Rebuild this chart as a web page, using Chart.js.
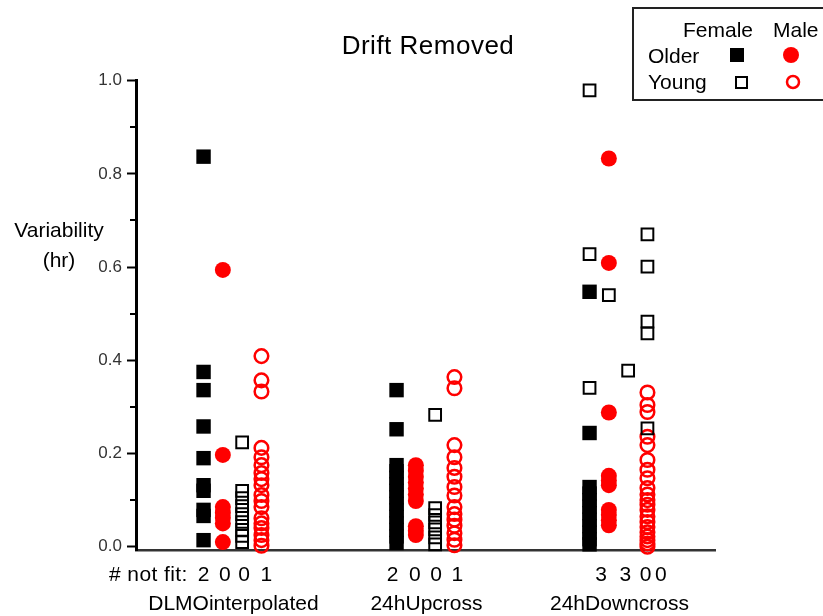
<!DOCTYPE html>
<html lang="en">
  <head>
    <meta charset="UTF-8" />
    <title>Drift Removed</title>
    <script src="https://cdn.jsdelivr.net/npm/chart.js"></script>
    <style>
      html,
      body {
        margin: 0;
        padding: 0;
        background: #fff;
      }
      #wrap {
        width: 823px;
        height: 616px;
      }
    </style>
  </head>
  <body>
    <div id="wrap"><canvas id="chart"></canvas></div>
    <script>
      // groups along the x axis
      const groups = ["DLMOinterpolated", "24hUpcross", "24hDowncross"];
      // "# not fit" counts per group: female older, male older, female young, male young
      const notFit = [
        [2, 0, 0, 1],
        [2, 0, 0, 1],
        [3, 3, 0, 0],
      ];
      const yTicks = [0, 0.2, 0.4, 0.6, 0.8, 1.0];
      const yMinorTicks = [0.1, 0.3, 0.5, 0.7, 0.9];

      // variability (hr), one list per group
      const femaleOlder = [
        [0.837, 0.375, 0.336, 0.258, 0.19, 0.132, 0.12, 0.079, 0.066, 0.014],
        [0.336, 0.252, 0.175, 0.162, 0.148, 0.134, 0.12, 0.106, 0.092, 0.078, 0.064, 0.05, 0.036, 0.022, 0.008],
        [0.547, 0.244, 0.128, 0.114, 0.1, 0.086, 0.072, 0.058, 0.044, 0.03, 0.016, 0.005],
      ];
      const maleOlder = [
        [0.594, 0.197, 0.085, 0.073, 0.062, 0.05, 0.01],
        [0.175, 0.163, 0.15, 0.138, 0.125, 0.112, 0.098, 0.044, 0.034, 0.025],
        [0.833, 0.609, 0.288, 0.152, 0.142, 0.132, 0.079, 0.068, 0.057, 0.046],
      ];
      const femaleYoung = [
        [0.224, 0.12, 0.104, 0.087, 0.07, 0.053, 0.036, 0.023, 0.01],
        [0.283, 0.083, 0.068, 0.052, 0.037, 0.02, 0.005],
        [0.979, 0.628, 0.341, 0.54, 0.378, 0.67, 0.601, 0.483, 0.458, 0.254],
      ];
      // column each young-female point sits in (0..3) for 24hDowncross
      const femaleYoungDowncrossCol = [0, 0, 0, 1, 2, 3, 3, 3, 3, 3];
      const maleYoung = [
        [0.409, 0.357, 0.333, 0.212, 0.192, 0.175, 0.158, 0.145, 0.132, 0.111, 0.098, 0.085, 0.061, 0.05, 0.04, 0.025, 0.014, 0.002],
        [0.364, 0.34, 0.218, 0.192, 0.169, 0.15, 0.128, 0.11, 0.085, 0.07, 0.058, 0.045, 0.029, 0.015, 0.003],
        [0.331, 0.304, 0.289, 0.236, 0.218, 0.186, 0.165, 0.147, 0.126, 0.112, 0.1, 0.09, 0.079, 0.065, 0.053, 0.042, 0.031, 0.022, 0.014, 0.007, 0],
      ];

      const FONT = "Arial, 'Liberation Sans', sans-serif";
      const RED = "#ff0000";

      function toPoints(lists, col, colsFor) {
        const pts = [];
        lists.forEach((vals, g) => {
          vals.forEach((v, i) => {
            const c = colsFor && colsFor[g] ? colsFor[g][i] : col;
            pts.push({ x: g * 10 + c, y: v });
          });
        });
        return pts;
      }

      const decor = {
        id: "decor",
        afterDraw(chart) {
          const { ctx, scales } = chart;
          const x = scales.x;
          const y = scales.y;
          ctx.save();

          // minor ticks
          ctx.strokeStyle = "#000";
          ctx.lineWidth = 2;
          yMinorTicks.forEach((v) => {
            const py = Math.round(y.getPixelForValue(v));
            ctx.beginPath();
            ctx.moveTo(x.left - 6, py);
            ctx.lineTo(x.left, py);
            ctx.stroke();
          });

          ctx.fillStyle = "#000";
          ctx.textBaseline = "alphabetic";

          // title
          ctx.font = "26px " + FONT;
          ctx.textAlign = "center";
          ctx.letterSpacing = "0.5px";
          ctx.fillText("Drift Removed", 428, 54);

          // y axis label
          ctx.font = "21px " + FONT;
          ctx.letterSpacing = "0px";
          ctx.fillText("Variability", 59, 237);
          ctx.fillText("(hr)", 59, 267);

          // # not fit row and group names
          ctx.font = "21px " + FONT;
          ctx.textAlign = "left";
          ctx.letterSpacing = "0.4px";
          ctx.fillText("# not fit:", 109, 581);
          ctx.letterSpacing = "0px";
          const notFitCol = [
            [0, 1.1, 2.1, 3.25],
            [-0.2, 0.95, 2.05, 3.15],
            [0.6, 1.85, 2.9, 3.7],
          ];
          ctx.textAlign = "center";
          notFit.forEach((counts, g) => {
            counts.forEach((n, i) => {
              ctx.fillText(String(n), x.getPixelForValue(g * 10 + notFitCol[g][i]), 581);
            });
            ctx.fillText(groups[g], x.getPixelForValue(g * 10 + 1.55), 610);
          });

          // legend box
          ctx.strokeStyle = "#222";
          ctx.lineWidth = 2;
          ctx.strokeRect(633, 8, 200, 92);
          ctx.font = "21px " + FONT;
          ctx.textAlign = "left";
          ctx.fillText("Female", 683, 37);
          ctx.fillText("Male", 773, 37);
          ctx.fillText("Older", 648, 63);
          ctx.fillText("Young", 648, 89);
          // symbols
          ctx.fillRect(730, 48, 14, 14);
          ctx.lineWidth = 2;
          ctx.strokeStyle = "#000";
          ctx.strokeRect(736, 77, 11, 11);
          ctx.fillStyle = RED;
          ctx.beginPath();
          ctx.arc(791, 55, 8, 0, Math.PI * 2);
          ctx.fill();
          ctx.strokeStyle = RED;
          ctx.lineWidth = 2.5;
          ctx.beginPath();
          ctx.arc(793, 82, 6, 0, Math.PI * 2);
          ctx.stroke();

          ctx.restore();
        },
      };

      const yMin = -0.0086;

      new Chart(document.getElementById("chart"), {
        type: "scatter",
        data: {
          datasets: [
            {
              label: "Female Young",
              data: toPoints(femaleYoung, 2, [null, null, femaleYoungDowncrossCol]),
              pointStyle: "rect",
              pointRadius: 8.3,
              backgroundColor: "rgba(0,0,0,0)",
              borderColor: "#000",
              borderWidth: 2,
            },
            {
              label: "Female Older",
              data: toPoints(femaleOlder, 0),
              pointStyle: "rect",
              pointRadius: 10.2,
              backgroundColor: "#000",
              borderWidth: 0,
            },
            {
              label: "Male Older",
              data: toPoints(maleOlder, 1),
              pointStyle: "circle",
              pointRadius: 8,
              backgroundColor: RED,
              borderWidth: 0,
            },
            {
              label: "Male Young",
              data: toPoints(maleYoung, 3),
              pointStyle: "circle",
              pointRadius: 6.8,
              backgroundColor: "rgba(0,0,0,0)",
              borderColor: RED,
              borderWidth: 2.5,
            },
          ],
        },
        options: {
          responsive: true,
          maintainAspectRatio: false,
          animation: false,
          devicePixelRatio: 1,
          clip: false,
          layout: { padding: { left: 0, right: 108, top: 80.7, bottom: 65.3 } },
          plugins: {
            legend: { display: false },
            tooltip: { enabled: false },
          },
          scales: {
            x: {
              type: "linear",
              min: -3.5,
              max: 26.5,
              afterFit: (s) => {
                s.height = 0;
              },
              ticks: { display: false },
              grid: { display: true, drawOnChartArea: false, drawTicks: false },
              border: { color: "#333", width: 2.5 },
            },
            y: {
              min: yMin,
              max: 1.0,
              afterFit: (s) => {
                s.width = 136;
              },
              afterBuildTicks: (s) => {
                s.ticks = yTicks.map((v) => ({ value: v }));
              },
              ticks: {
                color: "#333",
                padding: 5,
                font: { family: FONT, size: 17 },
                callback: (v) => Number(v).toFixed(1),
              },
              grid: {
                drawOnChartArea: false,
                drawTicks: true,
                tickLength: 9,
                tickWidth: 2,
                tickColor: "#000",
              },
              border: { color: "#000", width: 3 },
            },
          },
        },
        plugins: [decor],
      });
    </script>
  </body>
</html>
